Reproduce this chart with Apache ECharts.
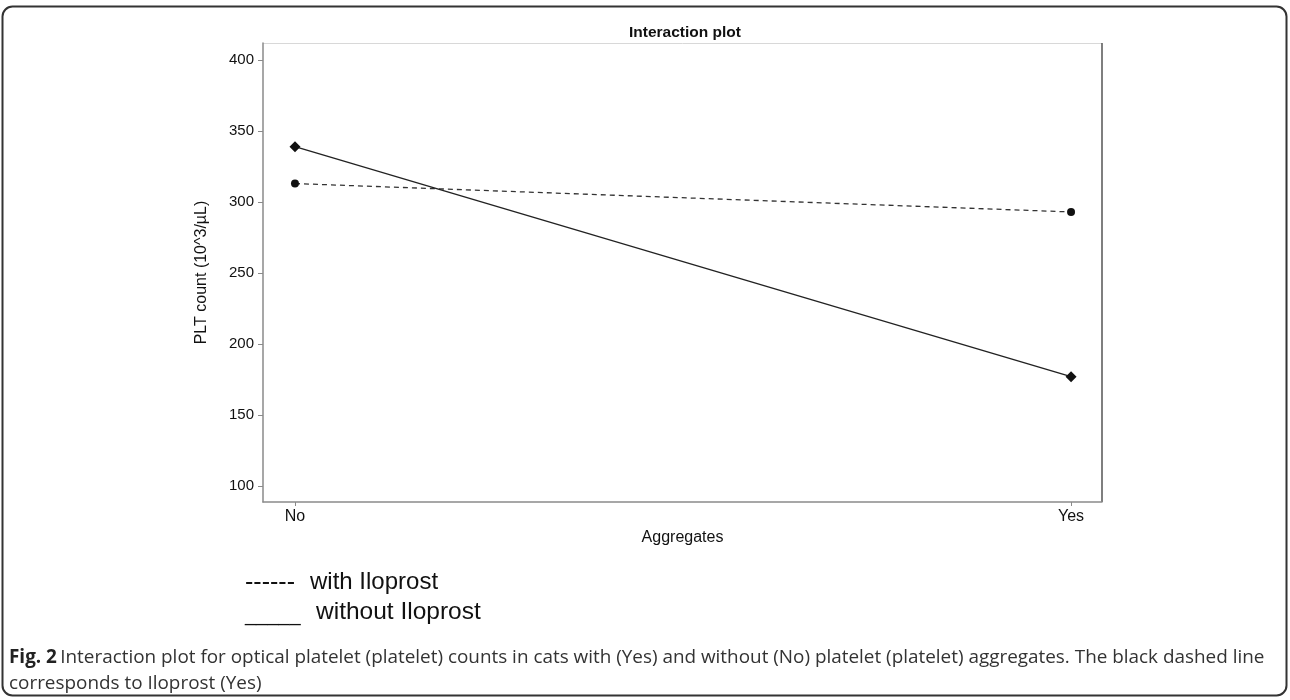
<!DOCTYPE html>
<html>
<head>
<meta charset="utf-8">
<script src="https://cdn.jsdelivr.net/npm/echarts@6/dist/echarts.min.js"></script>
<style>
html,body{margin:0;padding:0;background:#fff;}
#chart{width:1290px;height:700px;}
</style>
</head>
<body>
<div id="chart"></div>
<script>
const categories = ['No', 'Yes'];
const withIloprost = [313, 293];
const withoutIloprost = [339, 177];
const yTicks = [100, 150, 200, 250, 300, 350, 400];
const seriesNames = ['with Iloprost', 'without Iloprost'];

const chart = echarts.init(document.getElementById('chart'));
const pts = arr => arr.map((v, i) => [i, v]);
const axisGray = '#8a8a8a';
const font = '"Liberation Sans", Arial, sans-serif';
const capFont = '"Open Sans", "Noto Sans", sans-serif';

chart.setOption({
  animation: false,
  backgroundColor: '#fff',
  title: {
    text: 'Interaction plot',
    left: 680, top: 20, textAlign: 'center',
    textStyle: {fontFamily: font, fontSize: 15.5, fontWeight: 'bold', color: '#111'}
  },
  grid: {left: 263, top: 43, width: 839, height: 459},
  xAxis: {
    type: 'value', min: -0.0412, max: 1.0399,
    name: 'Aggregates', nameLocation: 'middle', nameGap: 18,
    nameTextStyle: {fontFamily: font, fontSize: 16, color: '#111'},
    splitLine: {show: false},
    axisLine: {show: true, onZero: false, lineStyle: {color: axisGray, width: 1.5}},
    axisTick: {show: true, length: 4, customValues: [0, 1], lineStyle: {color: axisGray}},
    axisLabel: {
      customValues: [0, 1], margin: 7,
      formatter: v => categories[Math.round(v)],
      fontFamily: font, fontSize: 16, color: '#111'
    }
  },
  yAxis: {
    type: 'value', min: 88.7, max: 412,
    name: 'PLT count (10^3/\u00b5L)', nameLocation: 'middle', nameGap: 53, nameRotate: 90,
    nameTextStyle: {fontFamily: font, fontSize: 16, color: '#111'},
    splitLine: {show: false},
    axisLine: {show: true, onZero: false, lineStyle: {color: axisGray, width: 1.5}},
    axisTick: {show: true, length: 5, customValues: yTicks, lineStyle: {color: axisGray}},
    axisLabel: {customValues: yTicks, margin: 9, fontFamily: font, fontSize: 15, color: '#111'}
  },
  series: [
    {
      name: seriesNames[0], type: 'line', data: pts(withIloprost),
      symbol: 'circle', symbolSize: 8,
      itemStyle: {color: '#111'},
      lineStyle: {color: '#333', width: 1.3, type: [5, 4]}
    },
    {
      name: seriesNames[1], type: 'line', data: pts(withoutIloprost),
      symbol: 'diamond', symbolSize: 11,
      itemStyle: {color: '#111'},
      lineStyle: {color: '#222', width: 1.4}
    }
  ],
  graphic: [
    {type: 'rect', shape: {x: 2.5, y: 6.5, width: 1284, height: 689, r: 10}, style: {fill: 'none', stroke: '#333', lineWidth: 2}, silent: true},
    {type: 'line', shape: {x1: 263, y1: 43.5, x2: 1102, y2: 43.5}, style: {stroke: '#d8d8d8', lineWidth: 1}, silent: true},
    {type: 'line', shape: {x1: 1102, y1: 43, x2: 1102, y2: 502}, style: {stroke: '#555', lineWidth: 1.5}, silent: true},
    {type: 'text', left: 245, top: 571, style: {text: '------', font: '25px ' + font, fill: '#111'}},
    {type: 'text', left: 310, top: 570, style: {text: seriesNames[0], font: '24px ' + font, fill: '#111'}},
    {type: 'text', left: 245, top: 605, style: {text: '_____', font: '20px ' + font, fill: '#111'}},
    {type: 'text', left: 316, top: 600, style: {text: seriesNames[1], font: '24.5px ' + font, fill: '#111'}},
    {type: 'text', left: 9, top: 645, style: {
      text: '{b|Fig. 2} {r|Interaction plot for optical platelet (platelet) counts in cats with (Yes) and without (No) platelet (platelet) aggregates. The black dashed line}\n{r|corresponds to Iloprost (Yes)}',
      lineHeight: 26,
      rich: {
        b: {font: 'bold 18.9px ' + capFont, fill: '#222', lineHeight: 26},
        r: {font: '18.9px ' + capFont, fill: '#333', lineHeight: 26}
      }
    }}
  ]
});
</script>
</body>
</html>
